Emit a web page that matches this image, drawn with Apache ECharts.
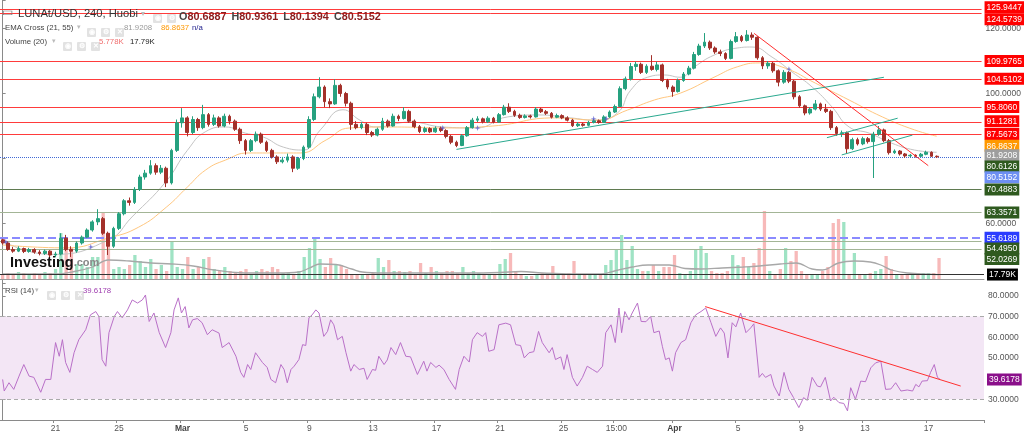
<!DOCTYPE html>
<html><head><meta charset="utf-8">
<script src="https://cdn.jsdelivr.net/npm/echarts@6/dist/echarts.min.js"></script>
<style>html,body{margin:0;padding:0;background:#fff}#c{width:1024px;height:433px}</style>
</head><body><div id="c"></div>
<script>
// ---------------- DATA ----------------
const firstOpen = 55;
const closes = [
54,52,51.5,52.3,51.4,52,51.2,50.8,51.5,50.3,
50.6,55.5,52,51.5,54,55.8,58,60.5,61.5,57,
53,58.5,63,67,66.5,70.5,74.3,75.5,77.8,75.8,
77,72.5,82.5,91,92.5,88,92,89.5,93.5,90.5,
92.5,90,93,91.5,89,85.5,82.5,85.5,87.5,85,
82.5,80.5,79,79.5,80.5,77,80,83.5,92,99,
102,97.5,96.8,102.5,100,97,90.5,89.5,90.5,88,
87.2,89,91.5,90,93,92.3,94.5,91.5,89.8,88.3,
89.2,88.2,89.3,88.6,86.8,85,84,87,89.5,91.8,
92.2,91.3,92.4,91.2,93.5,95.8,94.5,93.3,92.6,93.1,
92.8,95.2,94.4,93.9,92.7,93.2,92.5,91.8,90.1,90.6,
90.2,91.1,91.6,91.1,92.8,94.3,96,101.5,104.5,108.3,
109,106.5,108.4,107.4,108.8,104,102,100.6,104,106,
107.8,112,114.6,115.8,114,112.8,112.3,110.8,116,117.5,
116.3,118,117.3,111,108.5,109.3,107,103.5,106.5,103.8,
99,96.2,94,95.2,96.8,95.2,94.5,89.5,87.7,87.9,
83,85.8,84.5,86.1,85.2,87.5,88.8,85.5,81.8,82.3,
81.4,80.8,81,80.7,81.3,81.9,80.6887,80.5152];
const highs = [
55.3,54.5,52.8,53,52.6,52.5,52.4,51.8,52,51.8,
51.3,57,56.5,53,54.5,56.3,58.5,61,64.4,62,
57.5,59,63.5,67.5,68,71.2,75,76.5,79.5,78.5,
78,77.5,83,92,95.5,93,93,92.5,96.5,94,
93.5,93,93.8,93.5,92,89.5,86,86,88.3,88,
85.5,83,81,80.5,81.5,81,80.5,84,93,100,
105,102.5,98.5,104.4,103,100.5,97.5,91.5,91.2,91,
88.5,89.5,92.5,92,93.8,93.5,95.8,95,92,90.3,
89.8,89.6,89.9,89.8,89,87.2,85.5,87.5,90,92.5,
93,92.6,93,92.8,94,96.5,97,95,93.8,93.6,
93.5,95.8,95.6,94.9,94.3,93.8,93.6,93,92.2,91.2,
91,91.6,92.2,92,93.3,94.8,96.6,102.2,105.2,109.4,
109.8,109.5,109,111.8,109.8,109.2,104.5,102.5,104.6,106.6,
108.5,112.8,115.3,118.6,116.3,114.5,113.5,112.7,116.6,118.9,
118,119.5,118.8,117.6,111.5,110,109.7,107.4,107.2,106.9,
104.2,99.5,96.6,95.8,98,97.2,96.8,95,90,88.6,
88.3,86.4,86.4,86.7,86.6,88.2,90,89.2,86,82.8,
82.6,81.7,81.4,81.3,81.7,82.4,82.2,80.9361];
const lows = [
53.5,51.6,51,51.2,50.9,51,50.7,50.2,50.3,49.4,
49.6,50.2,51.5,49.7,51,53.5,55.5,57.5,59.5,56.5,
50.3,52.5,58,62.5,65.5,66,70,73.5,75,75,
75.2,71.2,72,82,89.5,86.8,87.5,88.5,89,89.8,
90,89.5,89.6,90.5,88.5,84.5,81.2,82,85,84.5,
82,80,78.3,78.5,78.8,75.8,76.5,79.5,83,91.5,
98.5,95.8,95.5,96.5,99,96,88.8,89,89,87.2,
86.6,86.8,88.5,89.5,89.8,91.5,92,91,89.3,87.8,
87.9,87.8,87.9,88.1,86.2,84.4,83.5,83.8,86.7,89.2,
91.2,90.8,90.9,90.8,91,93.2,94,92.8,92.2,92.3,
92.3,92.6,94,93.4,92.3,92.4,92.1,91.4,89.7,89.7,
89.8,89.9,90.8,90.7,90.9,92.5,94,95.8,101,104,
107,106,106,107,106.8,103.5,101.3,99,100.3,103.6,
105.6,107.4,111.6,114,113.4,112.2,111.5,110.3,110.5,115.6,
115.8,116,116.5,110.4,107.5,107.6,106.4,102.2,103,103.2,
98.2,95.6,93.3,93.5,94.8,94.6,94,88.8,87,86.6,
81.6,82.6,84,84.1,84.6,74,87,85,81.2,81.4,
80.9,80.2,80.4,80.3,80.5,81,80.5,80.1394];
const volumes = [
20,24,20,28,24,20,24,20,28,24,
40,184,160,124,60,60,48,88,88,264,
184,40,48,40,56,96,72,48,80,40,
56,32,148,48,40,88,40,48,80,88,
40,32,48,32,24,32,40,20,32,40,
32,48,40,24,24,20,32,88,124,160,
80,48,84,56,56,40,16,16,16,16,
24,84,48,76,32,32,28,32,20,64,
24,48,32,24,32,32,24,48,24,32,
24,20,20,20,60,80,104,32,16,12,
12,20,24,20,52,20,16,24,72,20,
16,16,16,16,56,76,116,176,76,132,
40,32,32,56,32,48,48,96,24,20,
32,120,132,104,32,24,24,32,96,56,
88,48,64,124,272,32,20,40,124,72,
112,32,16,16,16,32,48,224,240,228,
16,104,16,20,24,32,40,92,40,16,
16,20,16,24,24,24,24,84];
// volume MA(20) readings: [candle position, value in K]
const volumeMA = [[0,20],[10,20],[14,32],[17,48],[20,76],[24,72],[28,64],[32,60],[36,52],[40,36],[44,26],[48,24],[52,24],[56,28],[58,44],[60,60],[63,58],[66,40],[68,28],[72,24],[80,24],[88,24],[94,26],[98,30],[102,24],[108,20],[113,20],[116,34],[119,48],[122,56],[126,56],[129,42],[132,40],[136,44],[140,48],[143,52],[147,60],[150,64],[153,40],[155,36],[158,64],[161,72],[164,68],[166,56],[168,36],[171,24],[177,17.79]];
// EMA 21 and EMA 55 readings: [candle position, price]
const ema21 = [[0,54.6],[9,50.5],[20,54.9],[24.5,62],[31,73],[35,82.5],[38.5,88.3],[42.2,89.7],[46,87.8],[49.4,86.6],[53.2,83.5],[57,82.6],[60.2,88.8],[64.5,95],[67.7,91.8],[70.8,89.7],[77.2,91.2],[83.4,89.7],[89.7,89.4],[95.7,92.8],[101.4,93.4],[107.6,92.5],[112.2,91.8],[116.5,94],[119,101],[122.2,105],[125.4,105.7],[128.4,105],[131.1,108.2],[134.8,111.8],[139.2,114],[142,114.3],[145.8,111.2],[149.6,106.6],[153.4,102],[157.2,95.8],[160.4,89.7],[164.2,87.8],[168.5,84.7],[172.8,82.6],[177,81.9208]];
const ema55 = [[0,53.4],[12,52.5],[20,55.5],[25.8,58.9],[31,65],[35,71.2],[38.5,76.5],[42.2,79.5],[46.6,81.7],[51.9,81.7],[56.4,81.7],[61.3,85.7],[65.8,89.4],[74,89.7],[83.4,89.4],[92.9,90],[104.6,92.5],[112.7,91.8],[118.4,94.9],[123.5,98],[128.4,100.1],[134.8,105],[139.2,108.2],[143.4,109.4],[148.3,107.8],[154,103.2],[160.4,98],[166.7,92.8],[172.8,88.8],[177,86.8637]];
const emaCrosses = [[0.6,54.3],[16.7,52.8],[83.4,89.4],[90,89.4],[112,92.2],[114.4,92.2],[149,107.5]];
// RSI(14) readings: [candle position, RSI]
const rsi = [[0,39.6],[0.3,34],[1.2,38],[2.1,34.8],[3.1,41.2],[4,46.8],[5,41.2],[5.9,40.6],[7.2,33.4],[8.1,39.6],[9.1,39.6],[10,57.4],[10.7,50.8],[11.3,58.8],[11.9,47.8],[12.7,43],[13.5,52.5],[14.4,58.8],[15.7,63.6],[16.6,70.8],[17.6,72.4],[18.2,70],[18.8,49.2],[19.5,46],[20.1,62.2],[21.1,70],[21.7,72.4],[22.6,69.4],[23.6,73.2],[24.5,78],[25.5,76.5],[26.4,78],[27,80.4],[27.7,67.6],[28.6,71.7],[29.6,62.2],[30.8,55],[31.8,62.2],[32.4,73.2],[33.2,79],[33.8,71.7],[34.5,74.8],[35.2,64.5],[35.9,68.4],[36.8,69],[37.7,67],[38.7,61.2],[39.6,63.6],[40.9,62],[41.5,55],[42.8,57.4],[44.1,50.8],[45,43],[45.6,40.6],[46.3,46.8],[46.9,44.4],[47.8,52.5],[49.1,47.8],[50,45.4],[50.7,39.6],[51.6,38],[52.6,46.8],[53.2,44.4],[53.8,38],[54.5,44.4],[55.1,46],[56,49.2],[56.7,56.4],[57.3,56],[57.9,69.4],[58.5,70.8],[59.2,73.2],[59.8,71.7],[60.7,60.4],[61.4,62.8],[62,68.4],[62.6,66],[63.3,58.8],[64.2,60.4],[64.9,52.5],[65.8,43.6],[66.4,46.8],[67.4,44.4],[68.3,45],[68.9,39.6],[69.9,44.4],[70.5,44],[71.1,50.8],[72.1,46.8],[72.7,49],[73.4,55],[74.3,51.6],[75.2,57.4],[76.2,50.8],[77.1,50.5],[78.4,42],[79.6,48.4],[80.2,43.6],[80.9,47.8],[81.9,45.4],[82.5,46.5],[83.4,44.4],[84.4,39.6],[85.6,34.8],[86.3,44.4],[87.2,50.8],[88.2,48],[88.8,58.8],[89.7,62.2],[90.7,60.4],[91.3,62.2],[91.9,53.2],[92.9,54],[93.8,66],[95.1,66.8],[96,66],[97,56.4],[97.9,56],[98.6,50],[99.5,52.5],[100.4,53],[101.3,62.8],[102,57.4],[103.3,52.5],[103.9,55],[104.5,49.2],[105.5,50.5],[106.1,44.4],[106.7,51.6],[107.7,40.6],[108.6,36.4],[109.6,40.6],[110.5,46],[111.5,44.4],[112.4,43],[113.4,46],[114,62.2],[115,66],[115.8,57.4],[116.5,74.1],[117,62.2],[117.6,72.4],[118.4,68.4],[119,71.7],[120,76.5],[120.7,67.6],[121.6,67.5],[122.5,70],[123.1,62.2],[124.1,63],[124.7,55.6],[125.3,49.2],[126,50],[126.6,43.6],[127.2,52.5],[128.2,57.4],[129.1,58.8],[130.1,67],[131,70.8],[132,72.4],[132.9,74.1],[133.9,67],[134.8,60.4],[135.7,64.5],[136.4,62],[137.1,50],[137.9,67],[138.6,65],[139.5,71.7],[140.5,62.2],[141.4,64.5],[142,66.5],[143,40.6],[143.6,42.5],[144.2,40.6],[145.2,42],[145.8,36.4],[146.8,31.6],[147.7,43],[148.6,34.8],[149.5,30.8],[150.5,26],[151.4,30.8],[152.1,29.5],[153,40.6],[154,36.4],[154.6,36],[155.5,40.6],[156.5,29.2],[157.1,31],[158.1,28.4],[159,28],[159.7,24.4],[160.3,35.6],[161.2,30],[162.2,38.8],[163.1,38.5],[164.1,45.2],[165,47.6],[166,48.4],[166.9,34.8],[167.9,35],[168.8,38],[169.8,34],[171,34.5],[172,34],[172.6,37.2],[173.2,36],[173.8,38.8],[174.8,39],[175.4,43],[176.1,46.8],[176.7,40.6],[177.2,39.6178]];
// drawn trend lines: [candle position, value]
const trendRed = [[142.4,118.5],[175.4,77.8]];
const trendTealLong = [[86,82.8],[167,105]];
const trendChannelUp = [[156.2,86.4],[169.6,92.4]];
const trendChannelLow = [[159,81.1],[172.4,87.2]];
const trendRsi = [[132.8,74.8],[181.1,36.4]];
// horizontal price levels
const levelValues = [125.9447,124.5739,109.9765,104.5102,95.8060,91.1281,87.5673,86.8637,81.9208,80.6126,80.5152,70.4883,63.3571,55.6189,54.4950,52.0269];
const volumeLast = 17.79;
const rsiLast = 39.6178;
const rsiBands = [30, 70];
// x-axis tick labels
const tickIndex = [10,22,34,46,58,70,82,94,106,116,127,139,151,163,175];
const tickText = ['21','25','Mar','5','9','13','17','21','25','15:00','Apr','5','9','13','17'];
const priceTicksShown = [60,100,120];
const rsiTicksShown = [30,50,60,70,80];

// ---------------- BUILD ----------------
const NCAT = 186;
const categories = [];
(function(){const s=Date.UTC(2022,1,17,16);for(let i=0;i<NCAT;i++){const d=new Date(s+i*8*3600e3);categories.push((d.getUTCMonth()+1)+'/'+d.getUTCDate()+' '+String(d.getUTCHours()).padStart(2,'0')+':00');}})();
const candleData = closes.map((c,i)=>{const o=i===0?firstOpen:closes[i-1];return [o,c,lows[i],highs[i]];});
const UP='#26a17f', DOWN='#a3302a', VUP='#9fe3c4', VDOWN='#f7b9b9';
const volData = volumes.map((v,i)=>({value:v,itemStyle:{color:candleData[i][1]>=candleData[i][0]?VUP:VDOWN}}));
const tickMap = {}; tickIndex.forEach((k,i)=>tickMap[k]=tickText[i]);
const F = 'Liberation Sans, Arial, sans-serif';

const levelStyle = [
 {line:'#ff3b3b',box:'#ff0000',dy:-2},
 {line:'#ff3b3b',box:'#ff0000',dy:5.5},
 {line:'#ff3b3b',box:'#ff0000',dy:0},
 {line:'#ff3b3b',box:'#ff0000',dy:0},
 {line:'#ff3b3b',box:'#ff0000',dy:0},
 {line:'#ff3b3b',box:'#ff0000',dy:-1},
 {line:'#ff3b3b',box:'#ff0000',dy:0},
 {line:'rgba(0,0,0,0)',box:'#ff9800',dy:9.5},
 {line:'rgba(0,0,0,0)',box:'#9e9e9e',dy:3},
 {line:'rgba(0,0,0,0)',box:'#2f5a1f',dy:10},
 {line:'#4169d6',box:'#6d8ff2',dy:20.5,type:'dotted'},
 {line:'#5f7a50',box:'#2f5a1f',dy:0},
 {line:'#a3b596',box:'#2f5a1f',dy:0},
 {line:'#8a8aff',box:'#2b3cff',dy:0,type:'dashed',width:2},
 {line:'#a3b596',box:'#2f5a1f',dy:7},
 {line:'#a3b596',box:'#2f5a1f',dy:9.5}
];
function boxLabel(text, box, dy){
  const s = Math.max(1, Math.abs(dy)*2);
  let f = '{b|'+text+'}';
  if (dy>0) f = '{s| }\n'+f; else if (dy<0) f = f+'\n{s| }';
  return {show:true, position:'end', distance:3, formatter:f,
    rich:{ b:{color:'#fff', backgroundColor:box, fontSize:8.5, fontFamily:F, padding:[2,2,1,2], lineHeight:10},
           s:{fontSize:1, height:s, lineHeight:s} } };
}
const levelLines = levelValues.map((v,i)=>{const st=levelStyle[i];return {yAxis:v,
  lineStyle:{color:st.line,width:st.width||1,type:st.type||'solid'},
  label:boxLabel(v.toFixed(4),st.box,st.dy)};});

function titleText(left, top, text, style){return {left, top, padding:0, text, textStyle:Object.assign({fontFamily:F,fontWeight:'normal',fontSize:7.8,color:'#444'},style||{})};}
const icRich = {ic:{backgroundColor:'#e2e2e2',color:'#fff',width:9,height:9,align:'center',fontSize:7,borderRadius:1}};
function icons(left, top, n){const g=['◉','⚙','✕'];let t='';for(let i=0;i<n;i++)t+=(i?' ':'')+'{ic|'+g[i]+'}';return {left,top,padding:0,text:t,textStyle:{rich:icRich}};}

const option = {
  animation:false,
  backgroundColor:'#fff',
  title:[
    titleText(2,7,'▭',{fontSize:12,color:'#777'}),
    titleText(18,8,'LUNAt/USD, 240, Huobi',{fontSize:11.2,color:'#333'}),
    titleText(141,10,'▾',{fontSize:8,color:'#bbb'}),
    icons(153,9.5,2),
    {left:179,top:8.5,padding:0,text:'{k|O}{v|80.6887} {k|H}{v|80.9361} {k|L}{v|80.1394} {k|C}{v|80.5152}',
      textStyle:{rich:{k:{fontSize:10.8,fontFamily:F,color:'#444'},v:{fontSize:10.8,fontFamily:F,color:'#8b1d1d'}}}},
    titleText(5,24,'EMA Cross (21, 55)'),
    titleText(77,24,'▾',{fontSize:7,color:'#bbb'}),
    icons(87,23.5,3),
    titleText(124,24,'81.9208',{color:'#999'}),
    titleText(161,24,'86.8637',{color:'#ff9800'}),
    titleText(192,24,'n/a',{color:'#1c1c8a'}),
    titleText(5,38,'Volume (20)'),
    titleText(52,38,'▾',{fontSize:7,color:'#bbb'}),
    icons(63,37.5,3),
    titleText(99,38,'5.778K',{color:'#f07070'}),
    titleText(130,38,'17.79K',{color:'#222'}),
    titleText(5,287,'RSI (14)'),
    titleText(35,287,'▾',{fontSize:7,color:'#bbb'}),
    icons(47,286.5,3),
    titleText(83,287,'39.6178',{color:'#a040b0'}),
    {left:10,top:255,padding:0,text:'{a|Investing}{b|.com}',textStyle:{rich:{a:{fontSize:14.5,fontWeight:'bold',fontFamily:F,color:'#111'},b:{fontSize:11,fontFamily:F,color:'#888'}}}}
  ],
  grid:[
    {left:0,right:40,top:0,height:288.5},
    {left:0,right:40,top:205,height:74},
    {left:0,right:40,top:283.4,height:137.5}
  ],
  xAxis:[
    {type:'category',gridIndex:0,data:categories,show:false,boundaryGap:true},
    {type:'value',gridIndex:0,min:-0.5,max:NCAT-0.5,show:false},
    {type:'category',gridIndex:1,data:categories,boundaryGap:true,axisLine:{show:true,lineStyle:{color:'#9a9a9a'}},axisTick:{show:false},axisLabel:{show:false}},
    {type:'value',gridIndex:1,min:-0.5,max:NCAT-0.5,show:false},
    {type:'category',gridIndex:2,data:categories,boundaryGap:true,
      axisLine:{show:true,lineStyle:{color:'#8a8a8a'}},
      axisTick:{show:true,length:3,interval:(i)=>tickMap[i]!==undefined,lineStyle:{color:'#8a8a8a'}},
      axisLabel:{interval:(i)=>tickMap[i]!==undefined,formatter:(v,i)=>{const t=tickMap[i];return (t==='Mar'||t==='Apr')?'{b|'+t+'}':t;},
        color:'#555',fontSize:8.5,fontFamily:F,margin:4,rich:{b:{fontWeight:'bold',fontSize:8.5,color:'#444',fontFamily:F}}}},
    {type:'value',gridIndex:2,min:-0.5,max:NCAT-0.5,show:false}
  ],
  yAxis:[
    {type:'value',gridIndex:0,position:'right',min:40,max:128.77,interval:20,splitLine:{show:false},
      axisLine:{show:true,lineStyle:{color:'#8a8a8a'}},axisTick:{show:true,length:3,lineStyle:{color:'#8a8a8a'}},
      axisLabel:{color:'#555',fontSize:8.5,fontFamily:F,margin:4,formatter:(v)=>priceTicksShown.indexOf(v)>=0?v.toFixed(4):''}},
    {type:'value',gridIndex:1,min:0,max:296,show:false,splitLine:{show:false}},
    {type:'value',gridIndex:2,position:'right',min:20,max:86,interval:10,splitLine:{show:false},
      axisLine:{show:true,lineStyle:{color:'#8a8a8a'}},axisTick:{show:true,length:3,lineStyle:{color:'#8a8a8a'}},
      axisLabel:{color:'#555',fontSize:8.5,fontFamily:F,margin:4,formatter:(v)=>rsiTicksShown.indexOf(v)>=0?v.toFixed(4):''}}
  ],
  series:[
    {type:'bar',xAxisIndex:2,yAxisIndex:1,data:volData,barWidth:'62%',z:1,
      markLine:{silent:true,symbol:['none','none'],animation:false,data:[{yAxis:volumeLast,lineStyle:{color:'#333',width:1,type:'solid'},label:boxLabel('17.79K','#000',0)}]}},
    {type:'line',xAxisIndex:3,yAxisIndex:1,data:volumeMA,smooth:0.4,showSymbol:false,lineStyle:{color:'#a8a8a8',width:1.3},z:2},
    {type:'line',xAxisIndex:1,yAxisIndex:0,data:ema21,smooth:0.5,showSymbol:false,lineStyle:{color:'#c4c4c4',width:1},z:3},
    {type:'line',xAxisIndex:1,yAxisIndex:0,data:ema55,smooth:0.5,showSymbol:false,lineStyle:{color:'#ffc77f',width:1},z:3},
    {type:'candlestick',xAxisIndex:0,yAxisIndex:0,data:candleData,barWidth:'62%',z:5,
      itemStyle:{color:UP,color0:DOWN,borderColor:UP,borderColor0:DOWN,borderWidth:1},
      markLine:{silent:true,symbol:['none','none'],animation:false,data:levelLines}},
    {type:'line',xAxisIndex:1,yAxisIndex:0,data:trendRed,showSymbol:false,lineStyle:{color:'#ff3030',width:1},z:6},
    {type:'line',xAxisIndex:1,yAxisIndex:0,data:trendTealLong,showSymbol:false,lineStyle:{color:'#2aa98f',width:1},z:6},
    {type:'line',xAxisIndex:1,yAxisIndex:0,data:trendChannelUp,showSymbol:false,lineStyle:{color:'#2aa98f',width:1},z:6},
    {type:'line',xAxisIndex:1,yAxisIndex:0,data:trendChannelLow,showSymbol:false,lineStyle:{color:'#2aa98f',width:1},z:6},
    {type:'scatter',xAxisIndex:1,yAxisIndex:0,data:emaCrosses,symbol:'path://M5 0L6.2 3.8L10 5L6.2 6.2L5 10L3.8 6.2L0 5L3.8 3.8Z',symbolSize:6,itemStyle:{color:'#5a5ad0'},z:7},
    {type:'line',xAxisIndex:5,yAxisIndex:2,data:rsi,showSymbol:false,lineStyle:{color:'#b970c8',width:1},z:4,
      markArea:{silent:true,itemStyle:{color:'#f3e6f5'},data:[[{yAxis:rsiBands[0]},{yAxis:rsiBands[1]}]]},
      markLine:{silent:true,symbol:['none','none'],animation:false,data:[
        {yAxis:rsiBands[1],lineStyle:{color:'#aaaaaa',type:[4,3],width:1},label:{show:false}},
        {yAxis:rsiBands[0],lineStyle:{color:'#aaaaaa',type:[4,3],width:1},label:{show:false}},
        {yAxis:rsiLast,lineStyle:{color:'rgba(0,0,0,0)'},label:boxLabel(rsiLast.toFixed(4),'#8a0f8a',0)}]}},
    {type:'line',xAxisIndex:5,yAxisIndex:2,data:trendRsi,showSymbol:false,lineStyle:{color:'#ff3030',width:1},z:5}
  ]
};
echarts.init(document.getElementById('c'),null,{renderer:'canvas'}).setOption(option);
</script></body></html>
